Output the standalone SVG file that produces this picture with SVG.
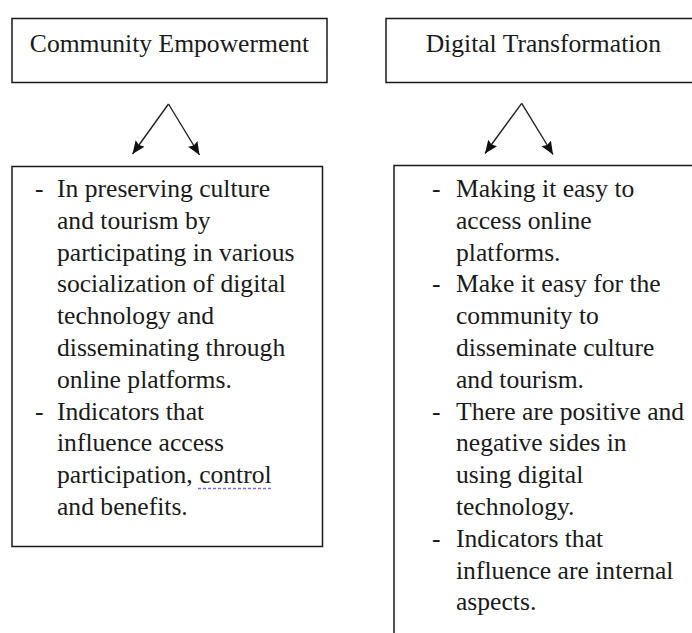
<svg xmlns="http://www.w3.org/2000/svg" width="692" height="633" viewBox="0 0 692 633" font-family="'Liberation Serif', 'Times New Roman', Times, serif">
  <style>
    .box { fill: #ffffff; stroke: #1a1a1a; stroke-width: 1.5; }
    .t { font-size: 25.6px; fill: #1a1a1a; }
    .title { text-anchor: middle; }
    .conn { stroke: #222222; stroke-width: 1.4; fill: none; marker-end: url(#ah); }
  </style>
  <defs>
    <marker id="ah" markerUnits="userSpaceOnUse" markerWidth="14" markerHeight="12" refX="13" refY="5.5" orient="auto">
      <path d="M0,0 L13,5.5 L0,11 L2,5.5 z" fill="#111111"/>
    </marker>
  </defs>
  <rect width="692" height="633" fill="#ffffff"/>

  <g id="community-empowerment">
    <rect class="box" x="12" y="18.5" width="315" height="64"/>
    <text class="t title" x="169.5" y="52">Community Empowerment</text>
  </g>

  <g id="digital-transformation">
    <rect class="box" x="386" y="18.5" width="320" height="64"/>
    <text class="t title" x="543.3" y="52">Digital Transformation</text>
  </g>

  <g id="connectors">
    <line class="conn" x1="168.5" y1="104" x2="132.5" y2="154"/>
    <line class="conn" x1="168.5" y1="104" x2="199.5" y2="155"/>
    <line class="conn" x1="521.7" y1="103.3" x2="485" y2="153.5"/>
    <line class="conn" x1="521.7" y1="103.3" x2="553" y2="154.5"/>
  </g>

  <g id="community-details">
    <rect class="box" x="12" y="166.5" width="310.5" height="380"/>
    <text class="t" x="35" y="197">-</text>
    <text class="t" x="57" y="197">In preserving culture</text>
    <text class="t" x="57" y="228.8">and tourism by</text>
    <text class="t" x="57" y="260.6">participating in various</text>
    <text class="t" x="57" y="292.4">socialization of digital</text>
    <text class="t" x="57" y="324.2">technology and</text>
    <text class="t" x="57" y="356">disseminating through</text>
    <text class="t" x="57" y="387.8">online platforms.</text>
    <text class="t" x="35" y="419.6">-</text>
    <text class="t" x="57" y="419.6">Indicators that</text>
    <text class="t" x="57" y="451.4">influence access</text>
    <text class="t" x="57" y="483.2">participation, control</text>
    <text class="t" x="57" y="515">and benefits.</text>
    <line x1="198" y1="488.5" x2="272" y2="488.5" stroke="#7070f0" stroke-width="1.6" stroke-dasharray="3 2"/>
  </g>

  <g id="digital-details">
    <rect class="box" x="394" y="165.5" width="320" height="500"/>
    <text class="t" x="432" y="197">-</text>
    <text class="t" x="456" y="197">Making it easy to</text>
    <text class="t" x="456" y="228.8">access online</text>
    <text class="t" x="456" y="260.6">platforms.</text>
    <text class="t" x="432" y="292.4">-</text>
    <text class="t" x="456" y="292.4">Make it easy for the</text>
    <text class="t" x="456" y="324.2">community to</text>
    <text class="t" x="456" y="356">disseminate culture</text>
    <text class="t" x="456" y="387.8">and tourism.</text>
    <text class="t" x="432" y="419.6">-</text>
    <text class="t" x="456" y="419.6">There are positive and</text>
    <text class="t" x="456" y="451.4">negative sides in</text>
    <text class="t" x="456" y="483.2">using digital</text>
    <text class="t" x="456" y="515">technology.</text>
    <text class="t" x="432" y="546.8">-</text>
    <text class="t" x="456" y="546.8">Indicators that</text>
    <text class="t" x="456" y="578.6">influence are internal</text>
    <text class="t" x="456" y="610.4">aspects.</text>
  </g>
</svg>
